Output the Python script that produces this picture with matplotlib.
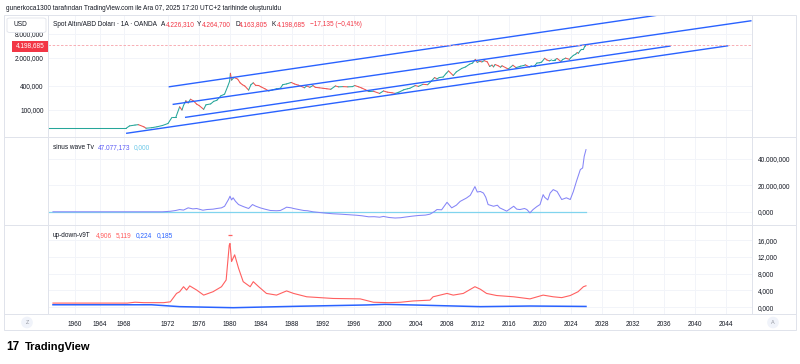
import numpy as np
import matplotlib.pyplot as plt
from matplotlib.lines import Line2D
from matplotlib.patches import Rectangle, FancyBboxPatch
from matplotlib.ticker import FixedLocator, FuncFormatter, NullLocator

plt.rcParams['font.family'] = ['Liberation Sans', 'DejaVu Sans']

# ---- data ----
gold_years = [1955.6, 1968.2, 1968.5, 1969.0, 1969.3, 1969.8, 1970.0, 1970.5, 1971.0, 1971.5,
              1972.0, 1972.5, 1973.0, 1973.5, 1973.8, 1974.0, 1974.3, 1974.6, 1974.9, 1975.3,
              1975.7, 1976.0, 1976.6, 1976.9, 1977.5, 1977.9, 1978.3, 1978.8, 1979.3, 1979.7,
              1979.95, 1980.05, 1980.2, 1980.5, 1980.8, 1981.0, 1981.3, 1981.6, 1981.9, 1982.4,
              1982.7, 1983.0, 1983.3, 1983.7, 1984.0, 1984.5, 1985.0, 1985.5, 1986.0, 1986.5,
              1986.8, 1987.3, 1987.9, 1988.3, 1988.8, 1989.2, 1989.6, 1989.9, 1990.3, 1990.7,
              1991.0, 1991.5, 1992.0, 1992.5, 1993.0, 1993.6, 1994.0, 1994.6, 1995.2, 1995.8,
              1996.1, 1996.6, 1997.0, 1997.5, 1997.9, 1998.5, 1999.3, 1999.8, 2000.3, 2000.9,
              2001.3, 2001.8, 2002.4, 2002.9, 2003.2, 2003.9, 2004.3, 2004.9, 2005.5, 2005.9,
              2006.4, 2006.7, 2007.0, 2007.5, 2007.9, 2008.2, 2008.8, 2009.2, 2009.9, 2010.4,
              2010.9, 2011.3, 2011.65, 2011.9, 2012.2, 2012.5, 2012.8, 2013.2, 2013.5, 2013.8,
              2014.0, 2014.2, 2014.6, 2014.9, 2015.1, 2015.9, 2016.5, 2016.9, 2017.5, 2017.9,
              2018.1, 2018.6, 2018.9, 2019.3, 2019.6, 2019.9, 2020.2, 2020.6, 2020.9, 2021.2,
              2021.5, 2021.9, 2022.2, 2022.7, 2022.9, 2023.3, 2023.8, 2024.0, 2024.3, 2024.6,
              2024.8, 2024.95, 2025.2, 2025.35, 2025.6, 2025.75, 2025.85, 2025.93]
gold_price = [35, 35, 40, 42, 43, 38, 35, 36, 38, 41,
              46, 65, 65, 120, 100, 130, 170, 150, 186, 168,
              140, 130, 104, 135, 142, 165, 175, 225, 250, 390,
              525, 830, 560, 650, 620, 590, 480, 430, 400, 315,
              430, 480, 415, 410, 380, 340, 300, 320, 340, 350,
              430, 450, 490, 450, 420, 390, 360, 400, 370, 410,
              370, 360, 350, 340, 330, 400, 380, 385, 380, 385,
              410, 380, 355, 320, 290, 295, 260, 300, 280, 270,
              260, 280, 320, 340, 350, 410, 390, 440, 430, 510,
              650, 600, 650, 670, 830, 950, 730, 900, 1100, 1200,
              1400, 1500, 1850, 1560, 1660, 1600, 1720, 1600, 1230, 1330,
              1200, 1380, 1280, 1180, 1280, 1060, 1320, 1150, 1250, 1300,
              1350, 1200, 1280, 1280, 1500, 1520, 1580, 1970, 1780, 1700,
              1800, 1800, 1950, 1640, 1820, 1990, 1850, 2060, 2330, 2500,
              2750, 2630, 3100, 3300, 3300, 3850, 4000, 4198.685]
last_price = 4198.685

# drawn trend channel: (start year, end year), (start price, end price)
chan_years = [(1972.17, 2035.2), (1972.68, 2047.2), (1974.28, 2036.77), (1968.25, 2044.2)]
chan_price = [(382, 23700), (138.8, 17100), (65.7, 3981), (26.2, 4040)]

sine_years = [1956.4, 1971.5, 1972.3, 1973.0, 1973.5, 1974.0, 1974.6, 1975.2, 1975.7, 1976.5,
              1977.0, 1977.8, 1978.3, 1978.9, 1979.3, 1979.8, 1980.0, 1980.2, 1980.4, 1980.7,
              1981.1, 1981.7, 1982.4, 1982.9, 1983.3, 1983.9, 1984.5, 1985.2, 1986.0, 1986.5,
              1987.0, 1987.3, 1987.9, 1988.2, 1988.8, 1989.5, 1990.0, 1990.7, 1991.5, 1992.3,
              1993.3, 1994.3, 1995.3, 1996.3, 1997.0, 1997.9, 1998.6, 1999.3, 1999.8, 2000.5,
              2001.3, 2002.0, 2002.6, 2003.5, 2004.3, 2005.2, 2005.8, 2006.4, 2006.7, 2007.3,
              2008.0, 2008.6, 2009.2, 2009.7, 2010.5, 2011.0, 2011.6, 2011.9, 2012.3, 2012.7,
              2013.0, 2013.3, 2014.0, 2014.5, 2014.8, 2015.7, 2016.6, 2017.0, 2017.4, 2018.0,
              2018.3, 2018.7, 2019.1, 2019.6, 2020.0, 2020.4, 2020.6, 2021.0, 2021.3, 2021.7,
              2022.2, 2022.8, 2023.4, 2023.9, 2024.3, 2024.7, 2025.2, 2025.5, 2025.7, 2025.93]
sine_vals = [0, 0, 400, 1000, 1700, 1300, 3000, 2200, 2500, 1200,
             1700, 2000, 2500, 3000, 4200, 9300, 11800, 9000, 10600, 8000,
             5500, 4000, 2500, 5500, 4300, 3000, 2000, 1000, 800, 1000,
             2500, 3500, 3000, 2500, 1800, 1000, 800, 0, -500, -1000,
             -1500, -1800, -2200, -2600, -3000, -3800, -3700, -4100, -3500, -4300,
             -4700, -4500, -4000, -3300, -2800, -2500, -1800, 300, 1700, 1500,
             7200, 3000, 5000, 7900, 10400, 12500, 19100, 15000, 15400, 14200,
             11000, 5500, 4200, 5000, 3000, 500, 4200, 2000, 1700, 2500,
             1700, -800, 1700, 4000, 5500, 13000, 11000, 9000, 14200, 16800,
             15400, 9300, 10600, 9300, 15400, 23100, 32000, 33200, 42000, 47077.173]

up_years = [1956.4, 1968.3, 1969.0, 1969.8, 1971.6, 1972.3, 1973.1, 1973.5, 1974.0, 1974.4,
            1974.8, 1975.7, 1976.6, 1977.8, 1978.9, 1979.5, 1979.9, 1980.0, 1980.2, 1980.6,
            1981.1, 1981.7, 1982.6, 1983.0, 1983.7, 1984.7, 1986.0, 1987.3, 1988.2, 1989.9,
            1993.3, 1996.8, 1998.5, 2000.5, 2002.0, 2003.6, 2005.8, 2006.2, 2008.0, 2008.8,
            2010.1, 2011.6, 2012.3, 2013.1, 2014.4, 2016.6, 2018.7, 2020.4, 2021.7, 2022.8,
            2023.9, 2024.9, 2025.6, 2025.93]
up_vals = [1.0, 1.0, 1.2, 1.1, 1.1, 1.3, 3.3, 3.7, 4.9, 4.1,
           5.1, 4.1, 2.9, 3.7, 4.9, 6.5, 14.8, 15.2, 10.9, 12.5,
           9.3, 6.1, 4.9, 6.1, 4.9, 3.3, 2.9, 3.9, 3.3, 2.5,
           2.1, 2.0, 1.2, 1.1, 1.2, 1.5, 1.7, 2.5, 3.3, 2.9,
           3.3, 4.9, 4.3, 3.3, 2.8, 2.5, 2.0, 2.9, 2.5, 2.3,
           2.8, 3.7, 4.9, 5.119]
up_peak_year = [1980.0]
up_peak_val = [17.2]

down_years = [1956.4, 1970.5, 1973.5, 1980.4, 1989.0, 1997.6, 2000.0, 2003.6, 2012.3, 2018.7, 2025.93]
down_vals = [0.6, 0.6, 0.15, -0.1, 0.25, 0.55, 0.7, 0.55, 0.15, 0.3, 0.2]

time_ticks = list(range(1960, 2045, 4))

# ---- layout helpers (pixels of the 800x364 picture) ----
W, H = 800, 364


def rect(x0, y0, x1, y1):
    return [x0 / W, 1 - y1 / H, (x1 - x0) / W, (y1 - y0) / H]


def tr(v):
    s = f"{v:,.3f}"
    return s.replace(',', '#').replace('.', ',').replace('#', '.')


# time axis is bar based on TradingView: sparse bars before 1972
YR_ANCH = [1950, 1960, 1968, 1972, 2060]
PX_ANCH = [13.75, 75, 124, 168, 850]


def fwd(x):
    return np.interp(x, YR_ANCH, PX_ANCH)


def inv(p):
    return np.interp(p, PX_ANCH, YR_ANCH)


TXT = '#131722'
GRID = '#f2f4f9'
BORDER = '#e0e3eb'
FS = 4.7

fig = plt.figure(figsize=(8, 3.64), dpi=100)
fig.patch.set_facecolor('white')

ax1 = fig.add_axes(rect(48, 15, 752, 137))
ax2 = fig.add_axes(rect(48, 137, 752, 225), sharex=ax1)
ax3 = fig.add_axes(rect(48, 225, 752, 314), sharex=ax1)

ax1.set_xscale('function', functions=(fwd, inv))
ax1.set_xlim(1955.59, 2047.35)

for ax in (ax1, ax2, ax3):
    ax.set_facecolor('white')
    for s in ax.spines.values():
        s.set_color(BORDER)
        s.set_linewidth(0.7)
    ax.xaxis.set_major_locator(FixedLocator(time_ticks))
    ax.xaxis.set_minor_locator(NullLocator())
    ax.grid(True, color=GRID, lw=0.7)
    ax.set_axisbelow(True)
    ax.tick_params(length=0, labelsize=FS, colors=TXT)

ax1.tick_params(labelbottom=False)
ax2.tick_params(labelbottom=False)
ax3.xaxis.set_major_formatter(FuncFormatter(lambda v, p: f"{int(round(v))}"))
ax3.tick_params(axis='x', pad=5)

# ---- price pane ----
ax1.set_yscale('log')
ax1.set_ylim(21.1, 23900)
ax1.yaxis.set_major_locator(FixedLocator([100, 400, 2000, 8000]))
ax1.yaxis.set_minor_locator(NullLocator())
ax1.yaxis.set_major_formatter(FuncFormatter(lambda v, p: tr(v)))
ax1.tick_params(axis='y', pad=3)

for i in range(len(gold_years) - 1):
    c = '#26a69a' if gold_price[i + 1] >= gold_price[i] else '#ef5350'
    ax1.plot(gold_years[i:i + 2], gold_price[i:i + 2], color=c, lw=0.75, solid_capstyle='round')

for xs, ys in zip(chan_years, chan_price):
    ax1.plot(xs, ys, color='#2962ff', lw=1.0, clip_on=True)

ax1.axhline(last_price, color='#f7a1a8', lw=0.6, ls=(0, (3, 2)))

# ---- sinus pane ----
ax2.set_ylim(-10000, 56667)
ax2.yaxis.set_major_locator(FixedLocator([0, 20000, 40000]))
ax2.yaxis.set_major_formatter(FuncFormatter(lambda v, p: tr(v)))
ax2.yaxis.tick_right()
ax2.tick_params(axis='y', pad=4)
ax2.plot([1955.6, 2025.93], [0, 0], color='#80d4ee', lw=0.9)
ax2.plot(sine_years, sine_vals, color='#8585f7', lw=0.75)

# ---- up-down pane ----
ax3.set_ylim(-1.6, 19.6)
ax3.yaxis.set_major_locator(FixedLocator([0, 4, 8, 12, 16]))
ax3.yaxis.set_major_formatter(FuncFormatter(lambda v, p: tr(v)))
ax3.yaxis.tick_right()
ax3.tick_params(axis='y', pad=4)
ax3.plot(down_years, down_vals, color='#2962ff', lw=1.1)
ax3.plot(up_years, up_vals, color='#ff6060', lw=0.8)
ax3.plot(up_peak_year, up_peak_val, ls='none', marker='_', ms=3, color='#ff6060', mew=0.9)

# ---- frame and separators ----
fig.add_artist(Rectangle((4 / W, 1 - 330 / H), 792 / W, 315 / H, transform=fig.transFigure,
                         fill=False, ec=BORDER, lw=0.7))
for yy in (137, 225, 314):
    fig.add_artist(Line2D([4 / W, 796 / W], [1 - yy / H] * 2, transform=fig.transFigure,
                          color=BORDER, lw=0.7))

# ---- texts ----
fig.text(6 / W, 1 - 8 / H,
         'gunerkoca1300 tarafından TradingView.com ile Ara 07, 2025 17:20 UTC+2 tarihinde oluşturuldu',
         fontsize=FS, color=TXT, va='center')

fig.add_artist(FancyBboxPatch((7 / W, 1 - 32.5 / H), 39 / W, 14.5 / H, transform=fig.transFigure,
                              boxstyle='round,pad=0,rounding_size=0.004',
                              fc='white', ec=BORDER, lw=0.6, zorder=9))
fig.text(13 / W, 1 - 25 / H, 'USD', fontsize=FS, color=TXT, va='center', zorder=10)

fig.add_artist(Rectangle((12 / W, 1 - 51.5 / H), 36 / W, 11 / H, transform=fig.transFigure,
                         fc='#f23645', ec='none', zorder=9))
fig.text(30 / W, 1 - 46 / H, tr(last_price), fontsize=FS, color='white', ha='center',
         va='center', zorder=10)

hy = 1 - 24.5 / H
RED = '#f23645'
fig.text(53 / W, hy, 'Spot Altın/ABD Doları · 1A · OANDA', fontsize=FS, color=TXT, va='center')
for lx, letter, vx, val in [(161, 'A', 165.5, '4.226,310'), (197, 'Y', 202, '4.264,700'),
                             (235.5, 'D', 239, '4.163,805'), (272, 'K', 276.5, '4.198,685')]:
    fig.text(lx / W, hy, letter, fontsize=FS, color=TXT, va='center')
    fig.text(vx / W, hy, val, fontsize=FS, color=RED, va='center')
fig.text(310 / W, hy, '−17,135 (−0,41%)', fontsize=FS, color=RED, va='center')

sy = 1 - 147.5 / H
fig.text(53 / W, sy, 'sinus wave Tv', fontsize=FS, color=TXT, va='center')
fig.text(97.5 / W, sy, '47.077,173', fontsize=FS, color='#5b5bf5', va='center')
fig.text(134 / W, sy, '0,000', fontsize=FS, color='#6cc8e8', va='center')

uy = 1 - 235.5 / H
fig.text(53 / W, uy, 'up-down-v9T', fontsize=FS, color=TXT, va='center')
fig.text(95.5 / W, uy, '4,906', fontsize=FS, color='#ff5b5b', va='center')
fig.text(115.5 / W, uy, '5,119', fontsize=FS, color='#ff5b5b', va='center')
fig.text(136 / W, uy, '0,224', fontsize=FS, color='#2962ff', va='center')
fig.text(156.5 / W, uy, '0,185', fontsize=FS, color='#2962ff', va='center')

for cx, letter in [(27, 'Z'), (773, 'A')]:
    fig.text(cx / W, 1 - 322.5 / H, letter, fontsize=4, color='#9598a1', ha='center', va='center',
             bbox=dict(boxstyle='circle,pad=0.6', fc='#f0f3fa', ec='none'))

fig.text(6 / W, 1 - 347 / H, '17', fontsize=8.5, color='black', va='center', fontweight='heavy')
fig.text(25 / W, 1 - 347 / H, 'TradingView', fontsize=8, color='black', va='center',
         fontweight='bold')

fig.savefig('out.png', dpi=100, facecolor='white')
